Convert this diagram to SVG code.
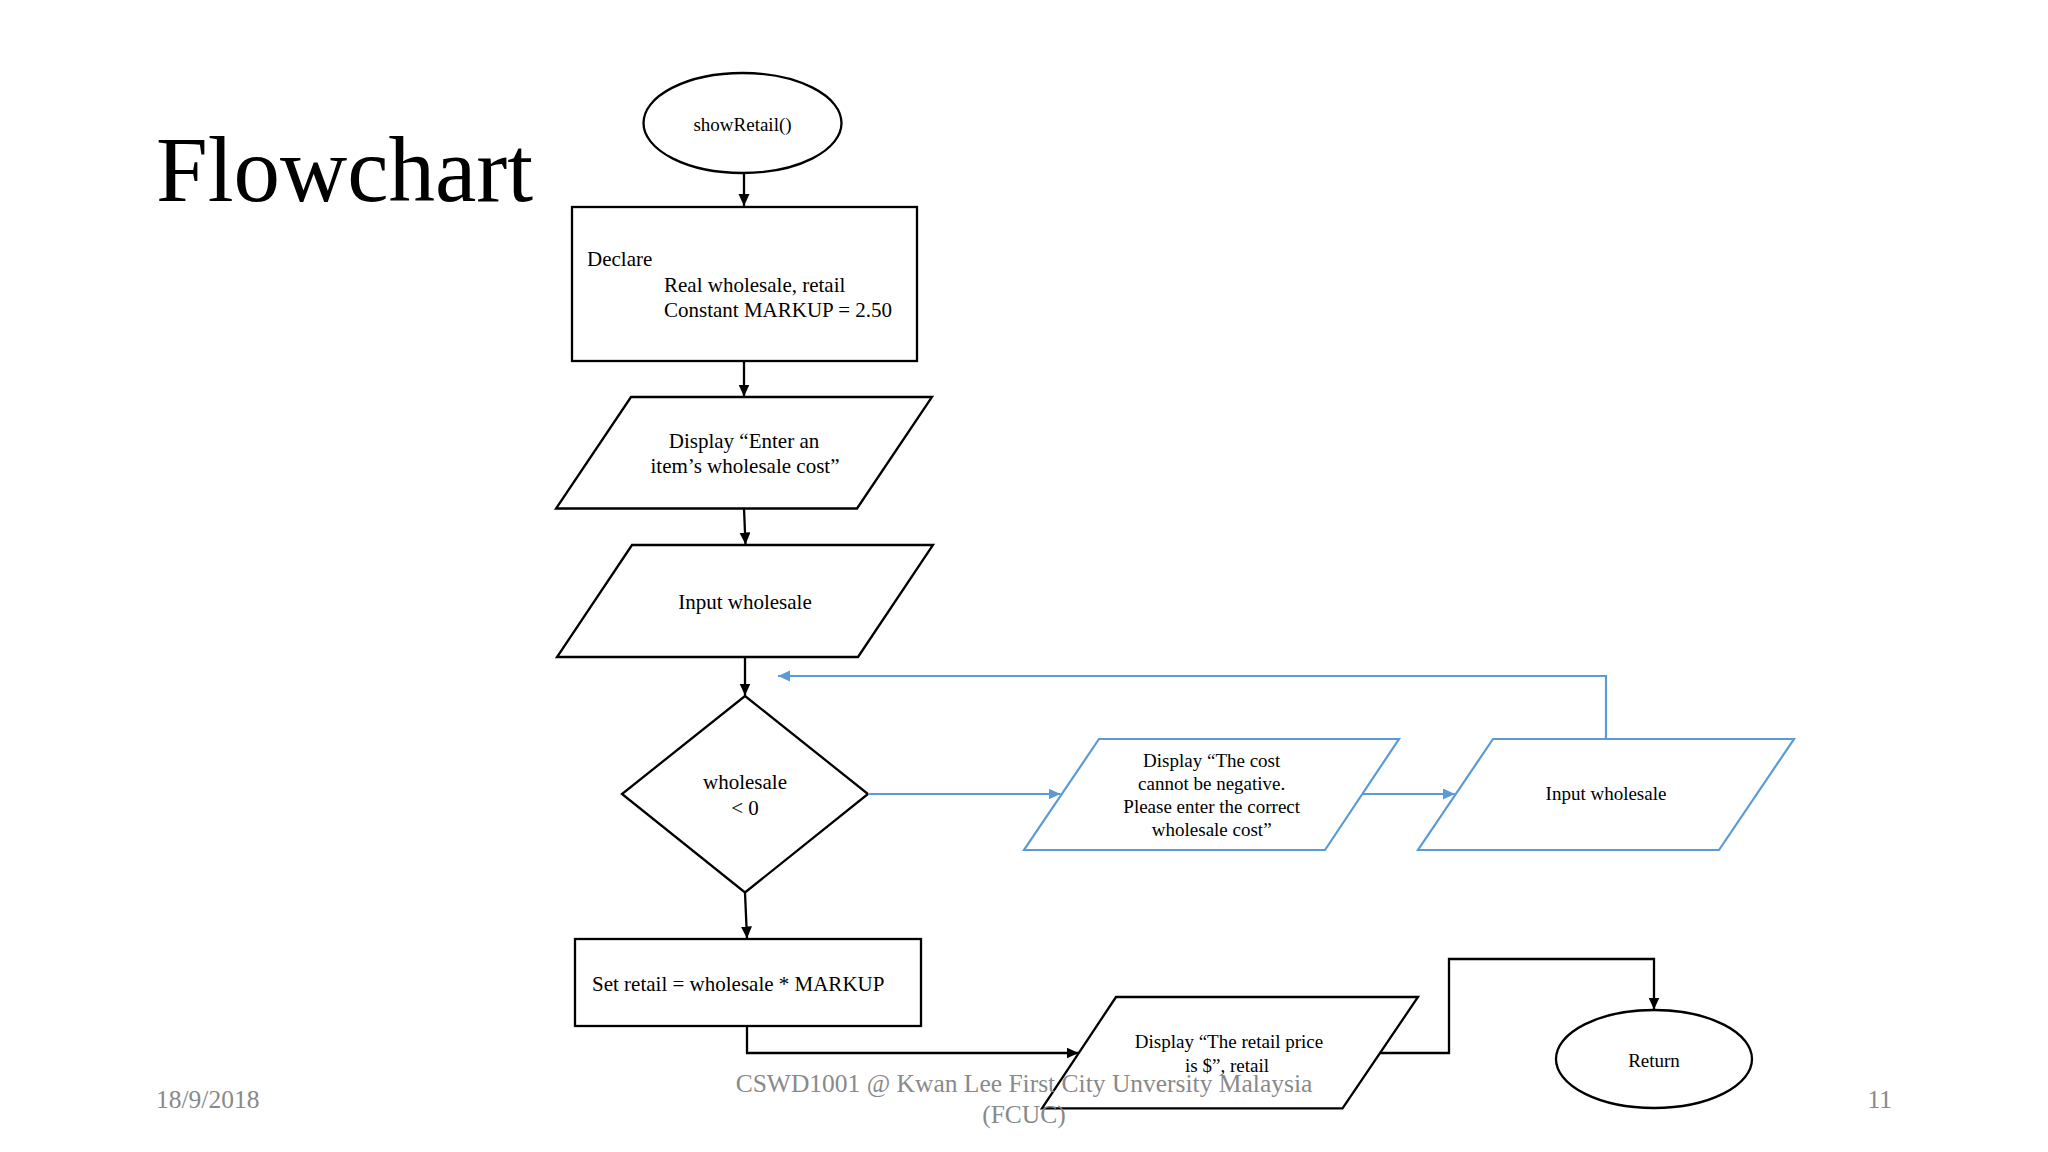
<svg xmlns="http://www.w3.org/2000/svg" width="2048" height="1152" viewBox="0 0 2048 1152">
<defs>
<marker id="ab" markerUnits="userSpaceOnUse" markerWidth="13" markerHeight="12" refX="12" refY="5.5" orient="auto"><path d="M0,0 L12,5.5 L0,11 z" fill="#000"/></marker>
<marker id="au" markerUnits="userSpaceOnUse" markerWidth="13" markerHeight="12" refX="12" refY="5.5" orient="auto"><path d="M0,0 L12,5.5 L0,11 z" fill="#5b9bd5"/></marker>
</defs>
<style>
text{font-family:"Liberation Serif","Times New Roman",serif;fill:#000}
.n{fill:#fff;stroke:#000;stroke-width:2.3}
.nb{fill:#fff;stroke:#5b9bd5;stroke-width:2.2}
.t21{font-size:21px}
.t19{font-size:19px}
.c{text-anchor:middle}
.cb{fill:none;stroke:#000;stroke-width:2.3}
.cu{fill:none;stroke:#5b9bd5;stroke-width:2.2}
.ft{font-size:25.5px;fill:#898989}
</style>
<rect width="2048" height="1152" fill="#fff"/>
<text x="156" y="201" style="font-size:93px">Flowchart</text>
<g id="start"><ellipse class="n" cx="742.5" cy="123" rx="99" ry="50"/><text class="t19 c" x="742.5" y="131">showRetail()</text></g>
<g id="declare"><rect class="n" x="572" y="207" width="345" height="154"/><text class="t21" x="587" y="266">Declare</text><text class="t21" x="664" y="291.5">Real wholesale, retail</text><text class="t21" x="664" y="316.5">Constant MARKUP = 2.50</text></g>
<g id="prompt"><polygon class="n" points="631,397 932,397 857,508.5 556,508.5"/><text class="t21 c" x="744" y="448">Display “Enter an</text><text class="t21 c" x="745" y="473">item’s wholesale cost”</text></g>
<g id="input1"><polygon class="n" points="632,545 933,545 858,657 557,657"/><text class="t21 c" x="745" y="609">Input wholesale</text></g>
<g id="decision"><polygon class="n" points="745,696 868,794 745,892.5 622,794"/><text class="t21 c" x="745" y="789">wholesale</text><text class="t21 c" x="745" y="815">&lt; 0</text></g>
<g id="error"><polygon class="nb" points="1099,739 1399,739 1325,850 1024,850"/><text class="t19 c" x="1211.7" y="766.5">Display “The cost</text><text class="t19 c" x="1211.7" y="790">cannot be negative.</text><text class="t19 c" x="1211.7" y="812.5">Please enter the correct</text><text class="t19 c" x="1211.7" y="835.5">wholesale cost”</text></g>
<g id="input2"><polygon class="nb" points="1493,739 1794,739 1719,850 1418,850"/><text class="t19 c" x="1606" y="800">Input wholesale</text></g>
<g id="setretail"><rect class="n" x="575" y="939" width="346" height="87"/><text class="t21" x="592" y="990.5">Set retail = wholesale * MARKUP</text></g>
<g id="output"><polygon class="n" points="1116,997 1418,997 1342.5,1108.3 1042,1108.3"/><text class="t19 c" x="1229" y="1048">Display “The retail price</text><text class="t19 c" x="1227" y="1071.5">is $”, retail</text></g>
<g id="return"><ellipse class="n" cx="1654" cy="1059" rx="98" ry="49"/><text class="t19 c" x="1654" y="1066.5">Return</text></g>
<g id="connectors">
<path class="cb" d="M744,173 L744,206" marker-end="url(#ab)"/>
<path class="cb" d="M744,361 L744,396.5" marker-end="url(#ab)"/>
<path class="cb" d="M744,508.5 L745.5,544.5" marker-end="url(#ab)"/>
<path class="cb" d="M745,657 L745,695.5" marker-end="url(#ab)"/>
<path class="cb" d="M745,892.5 L747,938.5" marker-end="url(#ab)"/>
<path class="cb" d="M747,1026 L747,1053 L1078.5,1053" marker-end="url(#ab)"/>
<path class="cb" d="M1379.5,1053 L1449,1053 L1449,959 L1654,959 L1654,1009.5" marker-end="url(#ab)"/>
<path class="cu" d="M868,794 L1060.5,794" marker-end="url(#au)"/>
<path class="cu" d="M1362,794 L1455,794" marker-end="url(#au)"/>
<path class="cu" d="M1606,739 L1606,676 L778,676" marker-end="url(#au)"/>
</g>
<text class="ft" x="156" y="1108">18/9/2018</text>
<text class="ft c" x="1024" y="1092">CSWD1001 @ Kwan Lee First City Unversity Malaysia</text>
<text class="ft c" x="1024" y="1123">(FCUC)</text>
<text class="ft" x="1892" y="1108" text-anchor="end">11</text>
</svg>
